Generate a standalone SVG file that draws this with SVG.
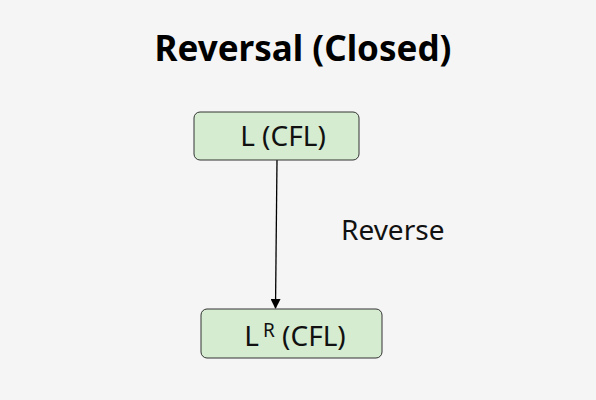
<svg xmlns="http://www.w3.org/2000/svg" width="596" height="400" viewBox="0 0 596 400">
<style>
.node rect{fill:#d5ecd0;stroke:#333;stroke-width:1}
.lbl{font-family:"Noto Sans",sans-serif;font-size:28px;fill:#111}
.title{font-family:"Noto Sans",sans-serif;font-size:35px;font-weight:bold;fill:#000}
</style>
<defs>
<marker id="arr" markerWidth="10" markerHeight="10" refX="9" refY="5" orient="auto" markerUnits="userSpaceOnUse">
<path d="M0,0 L10,5 L0,10 z" fill="#000"/>
</marker>
</defs>
<rect width="596" height="400" fill="#f5f5f5"/>
<text class="title" x="303" y="61" text-anchor="middle">Reversal (Closed)</text>
<g id="connectors">
<line x1="277" y1="160" x2="275.5" y2="308" stroke="#000" stroke-width="1.3" marker-end="url(#arr)"/>
<text class="lbl" x="341" y="240" font-size="27">Reverse</text>
</g>
<g id="node-L" class="node">
<rect x="194" y="112" width="165" height="48" rx="6"/>
<text class="lbl" x="283" y="146" text-anchor="middle">L (CFL)</text>
</g>
<g id="node-LR" class="node">
<rect x="201" y="309" width="181" height="49" rx="6"/>
<text class="lbl" x="295" y="346" text-anchor="middle">L<tspan dx="4" dy="-9" font-size="19">R</tspan><tspan dy="9"> (CFL)</tspan></text>
</g>
</svg>
